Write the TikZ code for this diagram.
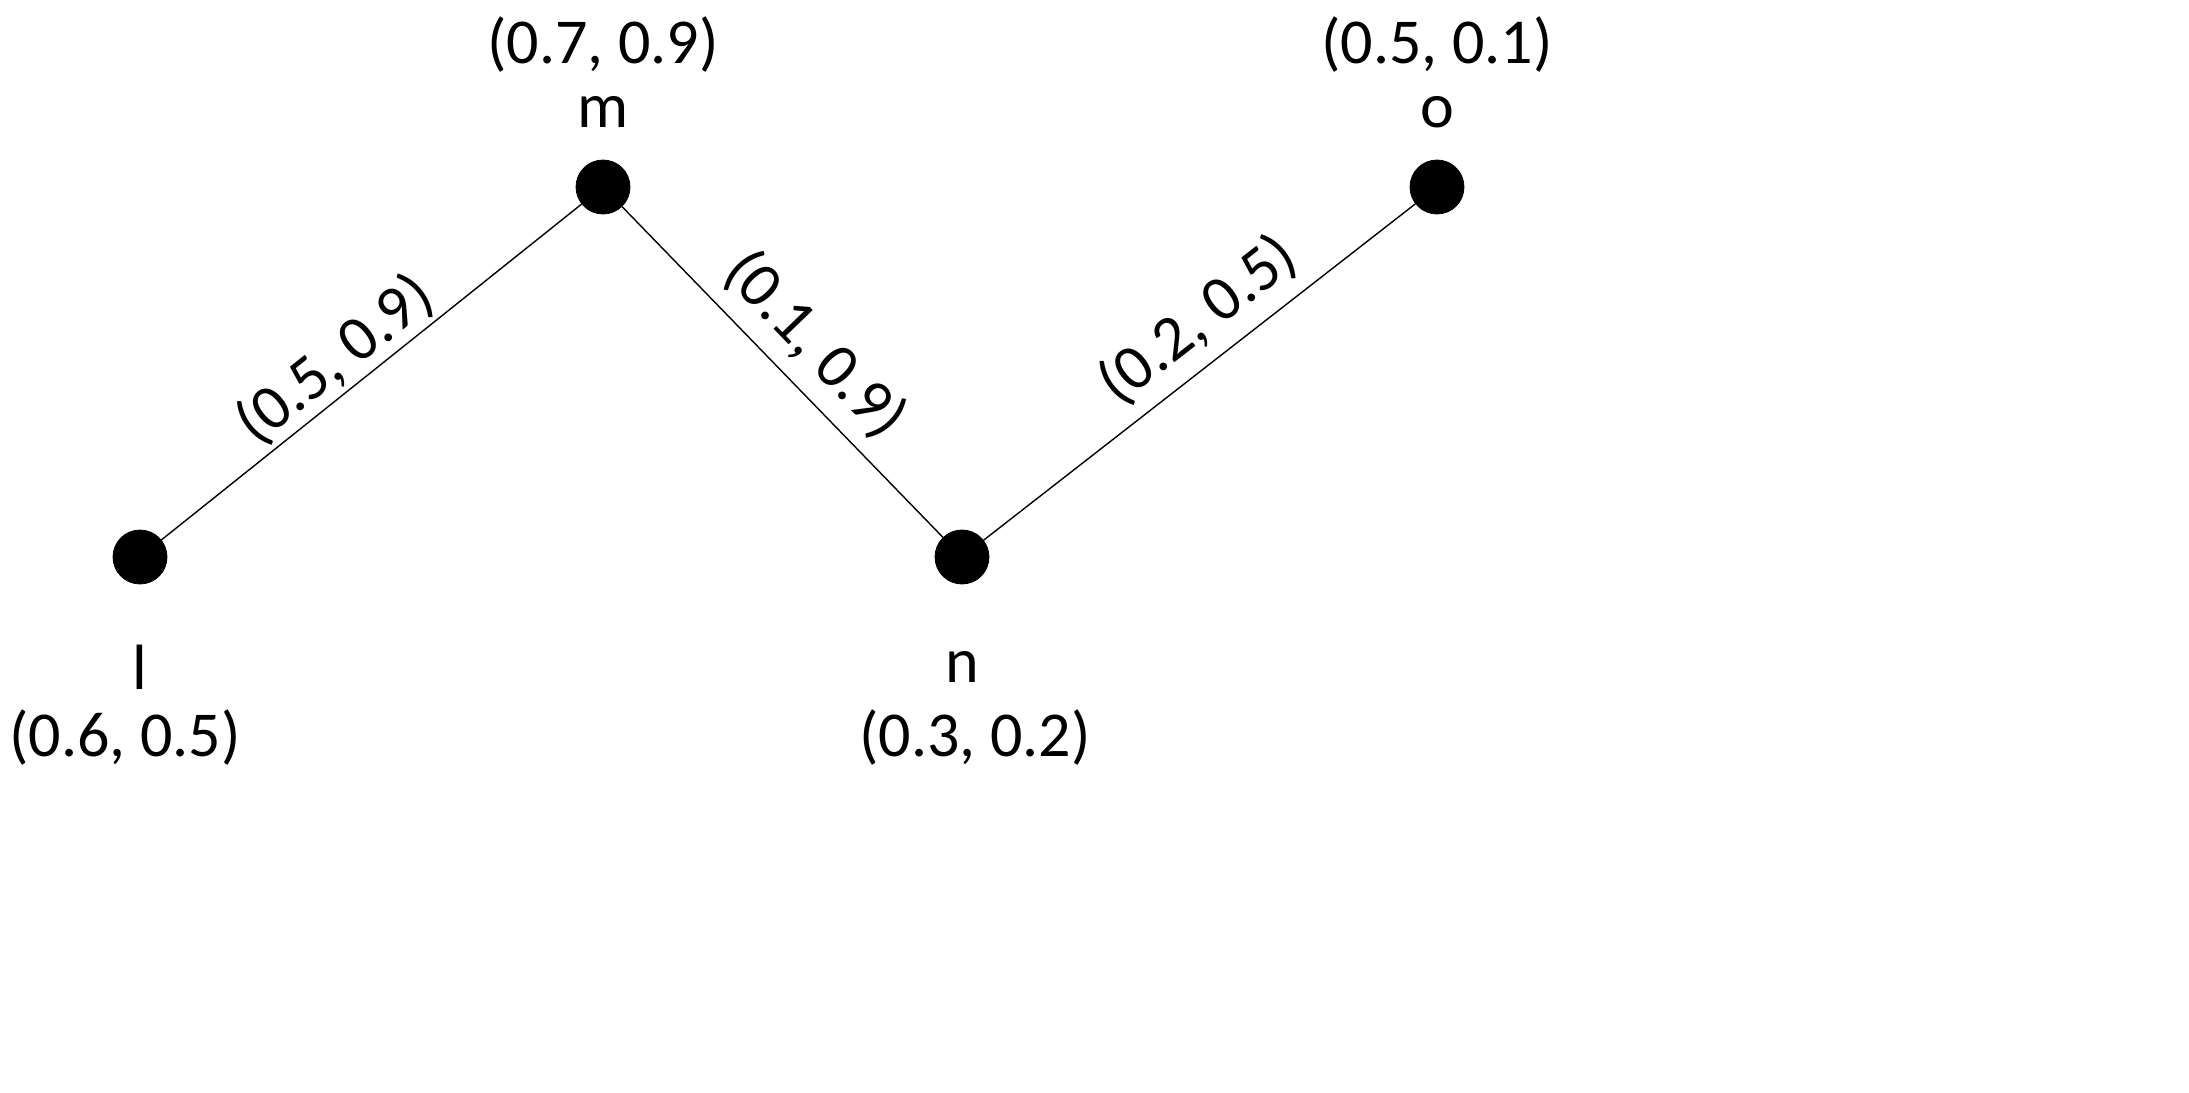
\documentclass[tikz,border=0pt]{standalone}
\usepackage{fontspec}
\setmainfont{Carlito}
\begin{document}
\begin{tikzpicture}[x=0.5pt,y=-0.5pt,
  vert/.style={circle,fill=black,draw=black,inner sep=0pt,minimum size=27pt},
  lab/.style={font=\fontsize{32}{36}\selectfont,inner sep=0pt},
  edge/.style={draw=black,line width=0.7pt}]
\useasboundingbox (0,0) rectangle (2189,1092);
\node[vert] (l) at (140,557) {};
\node[vert] (m) at (603,187) {};
\node[vert] (n) at (962,557) {};
\node[vert] (o) at (1437,187) {};
\draw[edge] (l) -- (m);
\draw[edge] (m) -- (n);
\draw[edge] (n) -- (o);
\node[lab] (lm) at (603,112) {m};
\node[lab] (lmv) at (603,45) {(0.7, 0.9)};
\node[lab] (lo) at (1437,112) {o};
\node[lab] (lov) at (1437,45) {(0.5, 0.1)};
\node[lab] (ll) at (140,667) {l};
\node[lab] (llv) at (125,738) {(0.6, 0.5)};
\node[lab] (ln) at (962,667) {n};
\node[lab] (lnv) at (975,738) {(0.3, 0.2)};
\node[lab,rotate=38.6] (e1) at (335,360) {(0.5, 0.9)};
\node[lab,rotate=-46] (e2) at (815,345) {(0.1, 0.9)};
\node[lab,rotate=37.9] (e3) at (1198,320) {(0.2, 0.5)};
\end{tikzpicture}
\end{document}
